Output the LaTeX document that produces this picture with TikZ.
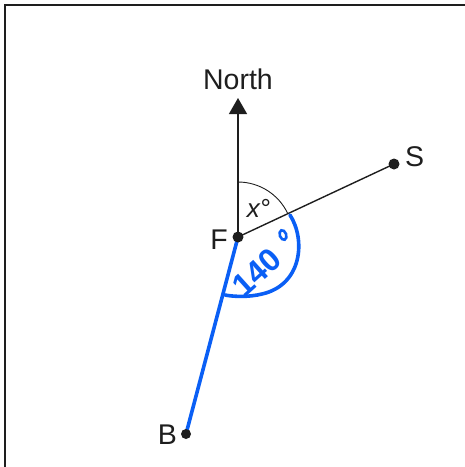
\documentclass[tikz,border=0pt]{standalone}
\usepackage{fontspec}
\setmainfont{Liberation Sans}
\usetikzlibrary{arrows.meta}
\definecolor{pen}{RGB}{10,95,245}
\definecolor{ink}{RGB}{30,30,30}
\begin{document}
\begin{tikzpicture}[x=1pt,y=-1pt,
  lbl/.style={font=\fontsize{28.5}{33}\selectfont, text=ink, inner sep=0pt},
  dot/.style={circle, fill=ink, inner sep=0pt, minimum size=11pt},
  thin/.style={draw=ink, line width=1.4pt},
  bluepen/.style={draw=pen, line width=3.6pt, line cap=round, line join=round}]
\useasboundingbox (0,0) rectangle (465,467);
% frame (top and left only visible)
\draw[ink, line width=2.6pt] (5,467) -- (5,5) -- (465,5);
% points
\coordinate (F) at (238,237);
\coordinate (S) at (394,164);
\coordinate (B) at (186,434);
\coordinate (N) at (238,98);
% north arrow
\draw[thin, -{Triangle[length=16pt,width=18pt]}] (F) -- (N);
\node[lbl, anchor=south] (north) at (238,90) {North};
% FS line
\draw[thin] (F) -- (S);
% x angle arc
\draw[ink, line width=0.9pt] (238,182) arc[start angle=-90, end angle=-25.5, radius=55];
\node[lbl, font=\fontsize{26}{30}\selectfont\itshape] (xlab) at (259,208) {x\textup{°}};
% blue line FB
\draw[bluepen] (F) -- (B);
% blue angle mark
\draw[bluepen] (290,215) .. controls (306,240) and (302,285) .. (262,294) .. controls (250,297) and (235,297) .. (225,295);
\node[font=\fontsize{32}{32}\selectfont\bfseries, text=pen, rotate=42, inner sep=0pt] (onefourty) at (257,272) {140};
\draw[pen, line width=2.6pt, rotate around={20:(283,235)}] (283,235) ellipse[x radius=3.2, y radius=5];
% dots
\node[dot] (Fd) at (F) {};
\node[dot] (Sd) at (S) {};
\node[dot, minimum size=10pt] (Bd) at (B) {};
% labels
\node[lbl, anchor=east] (Flab) at (228,240) {F};
\node[lbl, anchor=west] (Slab) at (405,157) {S};
\node[lbl, anchor=east] (Blab) at (177,435) {B};
\end{tikzpicture}
\end{document}
